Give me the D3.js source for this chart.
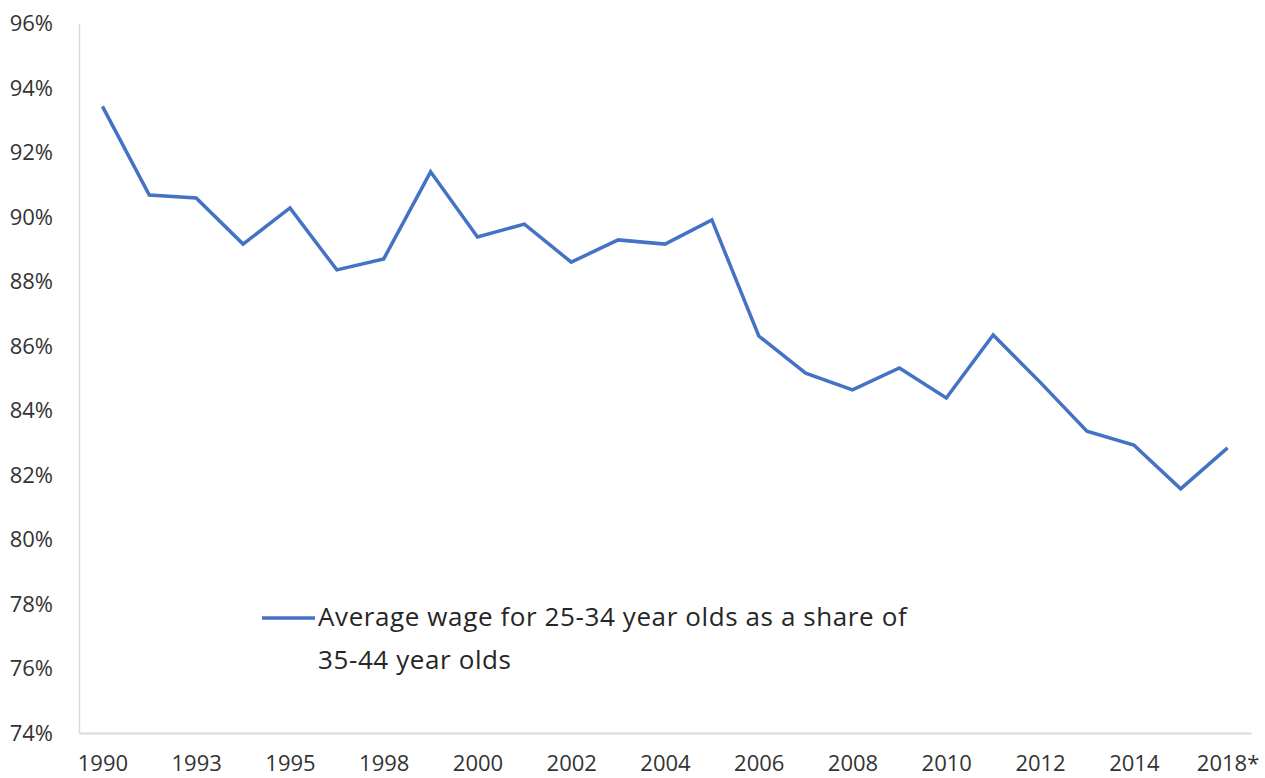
<!DOCTYPE html>
<html>
<head>
<meta charset="utf-8">
<script src="https://cdn.jsdelivr.net/npm/d3@7"></script>
<style>
  html, body { margin: 0; padding: 0; background: #fff; }
  svg { display: block; }
</style>
</head>
<body>
<svg id="chart" width="1265" height="778"></svg>
<script>
const years = ["1990","1992","1993","1994","1995","1997","1998","1999","2000","2001","2002","2003","2004","2005","2006","2007","2008","2009","2010","2011","2012","2013","2014","2016","2018*"];
const wageShare = [93.43,90.68,90.59,89.16,90.28,88.36,88.70,91.40,89.38,89.78,88.60,89.29,89.16,89.91,86.31,85.16,84.64,85.32,84.39,86.34,84.88,83.36,82.93,81.57,82.84];
const yTicks = [74,76,78,80,82,84,86,88,90,92,94,96];
const seriesName = ["Average wage for 25-34 year olds as a share of", "35-44 year olds"];

const font = "'Open Sans', sans-serif";
const textColor = "#333333";
const lineColor = "#4472C4";
const axisColor = "#d9d9d9";

const svg = d3.select("#chart");
const mLeft = 79, mRight = 1251, mTop = 23.5, mBottom = 733;

const x = d3.scalePoint().domain(years).range([mLeft, mRight]).padding(0.5);
const y = d3.scaleLinear().domain([74, 96]).range([mBottom, mTop]);

// Y axis
const yAxis = svg.append("g")
  .attr("transform", `translate(${mLeft},0)`)
  .call(d3.axisLeft(y).tickValues(yTicks).tickSize(0).tickSizeOuter(0).tickPadding(26).tickFormat(d => d + "%"));
yAxis.select(".domain").attr("stroke", axisColor).attr("stroke-width", 1.5);
yAxis.selectAll("text").attr("font-family", font).attr("font-size", 22).attr("fill", textColor);

// X axis
const xAxis = svg.append("g")
  .attr("transform", `translate(0,${mBottom})`)
  .call(d3.axisBottom(x).tickSize(0).tickSizeOuter(0).tickPadding(22)
    .tickFormat((d, i) => i % 2 === 0 ? d : ""));
xAxis.select(".domain").attr("stroke", axisColor).attr("stroke-width", 2);
xAxis.selectAll("text").attr("font-family", font).attr("font-size", 22).attr("fill", textColor);

// Line
const line = d3.line().x((d, i) => x(years[i])).y(d => y(d));
svg.append("path")
  .datum(wageShare)
  .attr("fill", "none")
  .attr("stroke", lineColor)
  .attr("stroke-width", 3.5)
  .attr("stroke-linejoin", "miter")
  .attr("d", line);

// Legend
const lg = svg.append("g");
lg.append("line")
  .attr("x1", 262).attr("x2", 315).attr("y1", 618).attr("y2", 618)
  .attr("stroke", lineColor).attr("stroke-width", 3.5);
lg.selectAll("text").data(seriesName).join("text")
  .attr("x", 318)
  .attr("y", (d, i) => 626 + i * 43)
  .attr("font-family", font)
  .attr("font-size", 26)
  .attr("letter-spacing", 0.6)
  .attr("fill", "#262626")
  .text(d => d);
</script>
</body>
</html>
